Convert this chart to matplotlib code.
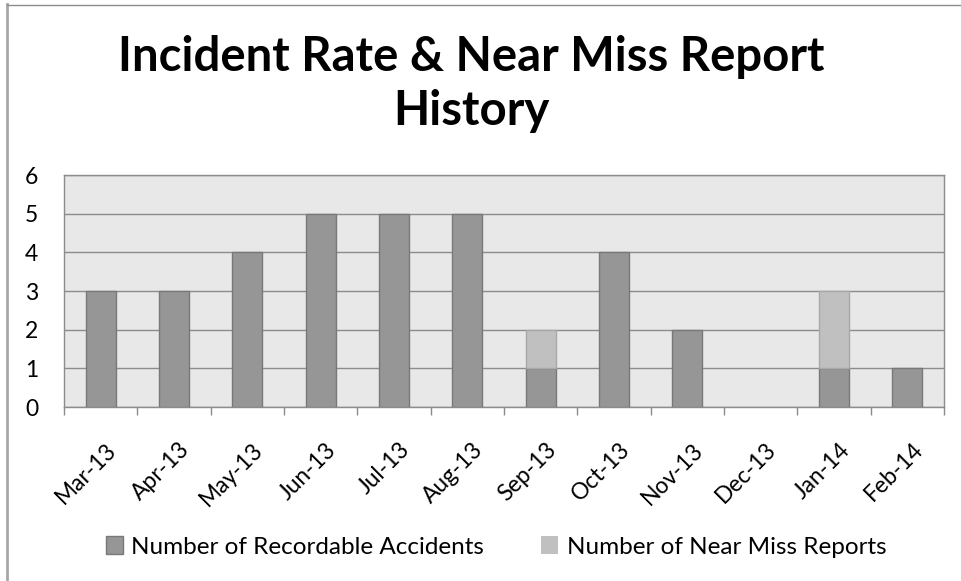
import matplotlib.pyplot as plt
import numpy as np
from matplotlib.lines import Line2D
import matplotlib.transforms as mtransforms

# Datos del gráfico
meses = ['Mar-13', 'Apr-13', 'May-13', 'Jun-13', 'Jul-13', 'Aug-13',
         'Sep-13', 'Oct-13', 'Nov-13', 'Dec-13', 'Jan-14', 'Feb-14']
accidentes = [3, 3, 4, 5, 5, 5, 1, 4, 2, 0, 1, 1]
casi_accidentes = [0, 0, 0, 0, 0, 0, 1, 0, 0, 0, 2, 0]

plt.rcParams['font.family'] = ['Lato', 'DejaVu Sans']

W, H = 962, 581
fig = plt.figure(figsize=(W / 100, H / 100), dpi=100)

# Área del gráfico en píxeles
izq, der, arriba, abajo = 64, 944, 175, 407
ax = fig.add_axes([izq / W, 1 - abajo / H, (der - izq) / W, (abajo - arriba) / H])
ax.set_facecolor('#e8e8e8')

x = np.arange(len(meses))
ancho = 0.41
b1 = ax.bar(x, accidentes, ancho, color='#969696', edgecolor='#787878', linewidth=1,
            label='Number of Recordable Accidents', zorder=3)
b2 = ax.bar(x, casi_accidentes, ancho, bottom=accidentes, color='#c0c0c0',
            edgecolor='#a8a8a8', linewidth=1, label='Number of Near Miss Reports', zorder=3)
# sin borde en barras de altura cero
for p in list(b1) + list(b2):
    if p.get_height() == 0:
        p.set_linewidth(0)

ax.set_xlim(-0.5, len(meses) - 0.5)
ax.set_ylim(0, 6)
ax.set_yticks(range(0, 7))
ax.tick_params(axis='y', length=0, labelsize=16.5, pad=28)
for t in ax.get_yticklabels():
    t.set_horizontalalignment('left')
ax.grid(axis='y', color='#8c8c8c', linewidth=1, zorder=1)

ax.set_xticks(x)
ax.set_xticklabels(meses, rotation=45, ha='right', rotation_mode='anchor', fontsize=16.5)
ax.tick_params(axis='x', which='major', length=0, pad=23)
desplaza = mtransforms.ScaledTranslation(5 / 100, 0, fig.dpi_scale_trans)
for t in ax.get_xticklabels():
    t.set_transform(t.get_transform() + desplaza)
ax.set_xticks(np.arange(-0.5, len(meses)), minor=True)
ax.tick_params(axis='x', which='minor', length=6, color='#8c8c8c', width=1)

for lado in ['left', 'top', 'right', 'bottom']:
    ax.spines[lado].set_color('#8c8c8c')
    ax.spines[lado].set_linewidth(1)

fig.text(471 / W, 1 - 84 / H, 'Incident Rate & Near Miss Report\nHistory', ha='center', va='center',
         fontsize=34, fontweight='bold', linespacing=1.3)

leg = fig.legend(loc='center', bbox_to_anchor=(496 / W, 1 - 547 / H), ncol=2, frameon=False,
                 fontsize=17.5, handlelength=0.7, handleheight=0.7, handletextpad=0.35,
                 columnspacing=2.35)

# Borde del gráfico
fig.add_artist(Line2D([7.5 / W, 7.5 / W], [0, 1 - 4 / H], color='#a8a8a8', linewidth=2))
fig.add_artist(Line2D([7 / W, 1], [1 - 4.5 / H, 1 - 4.5 / H], color='#8c8c8c', linewidth=1))

fig.savefig('out.png', dpi=100)
